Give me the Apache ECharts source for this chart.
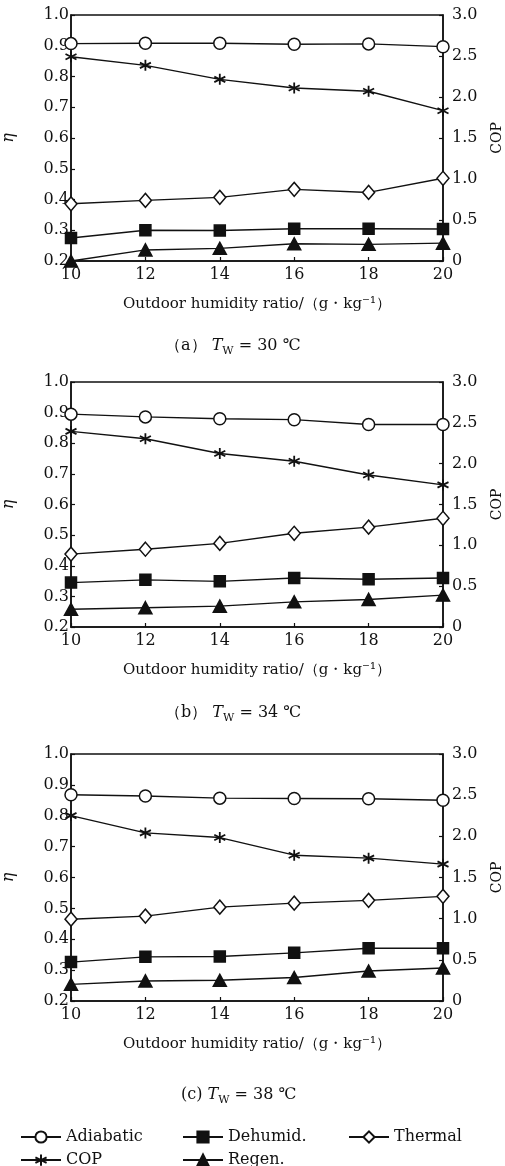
<!DOCTYPE html>
<html>
<head>
<meta charset="utf-8">
<script src="https://cdn.jsdelivr.net/npm/echarts@6/dist/echarts.min.js"></script>
<style>
html,body{margin:0;padding:0;background:#fff;overflow:hidden;}
#chart{width:505px;height:1166px;}
</style>
</head>
<body>
<div id="chart"></div>
<script>
// ---- data ----
const xValues = [10, 12, 14, 16, 18, 20];
const seriesNames = ['Adiabatic', 'Dehumid.', 'Thermal', 'COP', 'Regen.'];
const etaTicks = ['0.2','0.3','0.4','0.5','0.6','0.7','0.8','0.9','1.0'];
const copTicks = ['0','0.5','1.0','1.5','2.0','2.5','3.0'];
const captionTemps = ['30', '34', '38'];
const captionLetters = ['（a）', '（b）', '(c)'];

// panel (a) Tw = 30
const adiabaticA = [0.907, 0.908, 0.908, 0.905, 0.906, 0.897];
const dehumidA   = [0.275, 0.300, 0.299, 0.305, 0.305, 0.304];
const thermalA   = [0.386, 0.397, 0.407, 0.433, 0.423, 0.469];
const copA       = [2.49, 2.386, 2.215, 2.11, 2.07, 1.833];
const regenA     = [0.200, 0.236, 0.241, 0.256, 0.254, 0.258];

// panel (b) Tw = 34
const adiabaticB = [0.895, 0.886, 0.880, 0.877, 0.861, 0.861];
const dehumidB   = [0.345, 0.354, 0.349, 0.360, 0.356, 0.360];
const thermalB   = [0.438, 0.454, 0.473, 0.506, 0.526, 0.555];
const copB       = [2.395, 2.305, 2.124, 2.03, 1.862, 1.74];
const regenB     = [0.258, 0.263, 0.268, 0.282, 0.290, 0.304];

// panel (c) Tw = 38
const adiabaticC = [0.868, 0.864, 0.857, 0.856, 0.855, 0.850];
const dehumidC   = [0.326, 0.343, 0.344, 0.356, 0.371, 0.371];
const thermalC   = [0.465, 0.475, 0.504, 0.517, 0.526, 0.539];
const copC       = [2.252, 2.042, 1.985, 1.771, 1.735, 1.662];
const regenC     = [0.254, 0.265, 0.267, 0.276, 0.297, 0.307];

const panels = [
  [adiabaticA, dehumidA, thermalA, copA, regenA],
  [adiabaticB, dehumidB, thermalB, copB, regenB],
  [adiabaticC, dehumidC, thermalC, copC, regenC]
];

// ---- layout / style ----
const FONT = '"DejaVu Serif","Liberation Serif",serif';
const INK = '#111';
const gridTops = [15, 382, 754];
const gridHeights = [246, 245, 247];
const captionTops = [330, 697, 1079];
const captionLefts = [160, 160, 176];

const ASTERISK = 'path://M0,-10L0,10M-8.66,-5L8.66,5M-8.66,5L8.66,-5';
const styles = {
  'Adiabatic': {symbol: 'circle', size: 12, fill: '#fff'},
  'Dehumid.':  {symbol: 'rect', size: 11, fill: INK},
  'Thermal':   {symbol: 'diamond', size: [12, 14], fill: '#fff'},
  'COP':       {symbol: ASTERISK, size: 11, fill: 'none'},
  'Regen.':    {symbol: 'triangle', size: [13, 12], fill: INK}
};

const grids = [], xAxes = [], yAxes = [], series = [], titles = [];
panels.forEach((p, i) => {
  grids.push({left: 71, right: 62, top: gridTops[i], height: gridHeights[i],
    containLabel: false, outerBoundsMode: 'none',
    show: true, borderColor: INK, borderWidth: 1.5, backgroundColor: 'transparent'});
  xAxes.push({type: 'value', gridIndex: i, min: 10, max: 20, interval: 2,
    name: 'Outdoor humidity ratio/（g・kg⁻¹）', nameLocation: 'middle', nameGap: 36,
    nameTextStyle: {fontFamily: FONT, fontSize: 15, color: INK},
    axisLine: {lineStyle: {color: INK, width: 1.5}},
    axisTick: {inside: true, length: 4, lineStyle: {color: INK, width: 1.2}},
    axisLabel: {fontFamily: FONT, fontSize: 16, color: INK, margin: 6},
    splitLine: {show: false}});
  yAxes.push({type: 'value', gridIndex: i, min: 0.2, max: 1.0, interval: 0.1,
    name: 'η', nameLocation: 'middle', nameGap: 54, nameRotate: 90,
    nameTextStyle: {fontFamily: FONT, fontSize: 16, fontStyle: 'italic', color: INK},
    axisLine: {lineStyle: {color: INK, width: 1.5}},
    axisTick: {inside: true, length: 4, lineStyle: {color: INK, width: 1.2}},
    axisLabel: {fontFamily: FONT, fontSize: 16, color: INK, margin: 2,
      formatter: v => etaTicks[Math.round((v - 0.2) * 10)]},
    splitLine: {show: false}});
  yAxes.push({type: 'value', gridIndex: i, position: 'right', min: 0, max: 3, interval: 0.5,
    name: 'COP', nameLocation: 'middle', nameGap: 47, nameRotate: 90,
    nameTextStyle: {fontFamily: FONT, fontSize: 14, color: INK},
    axisLine: {show: true, lineStyle: {color: INK, width: 1.5}},
    axisTick: {show: true, inside: true, length: 4, lineStyle: {color: INK, width: 1.2}},
    axisLabel: {fontFamily: FONT, fontSize: 16, color: INK, margin: 9,
      formatter: v => copTicks[Math.round(v * 2)]},
    splitLine: {show: false}});
  seriesNames.forEach((name, k) => {
    const st = styles[name];
    series.push({
      type: 'line', name: name, xAxisIndex: i,
      yAxisIndex: name === 'COP' ? 2 * i + 1 : 2 * i,
      data: xValues.map((x, j) => [x, p[k][j]]),
      symbol: st.symbol, symbolSize: st.size, showAllSymbol: true,
      lineStyle: {color: INK, width: 1.4},
      itemStyle: {color: st.fill, borderColor: INK, borderWidth: name === 'COP' ? 1.8 : 1.5},
      emphasis: {disabled: true},
      animation: false, z: 3
    });
  });
  titles.push({
    text: '{n|' + captionLetters[i] + ' }{i|T}{s|W}{n| = ' + captionTemps[i] + ' ℃}',
    left: captionLefts[i], top: captionTops[i],
    textStyle: {fontWeight: 'normal', rich: {
      n: {fontFamily: FONT, fontSize: 16, fontWeight: 'normal', color: INK, lineHeight: 22},
      i: {fontFamily: FONT, fontSize: 16, fontWeight: 'normal', fontStyle: 'italic', color: INK, lineHeight: 22},
      s: {fontFamily: FONT, fontSize: 11, fontWeight: 'normal', color: INK, lineHeight: 12, verticalAlign: 'bottom'}
    }}
  });
});

const legendPos = {
  'Adiabatic': [15, 1124], 'Dehumid.': [177, 1124], 'Thermal': [343, 1124],
  'COP': [15, 1147], 'Regen.': [177, 1147]
};
const legends = seriesNames.map(n => ({
  data: [n], left: legendPos[n][0], top: legendPos[n][1],
  itemWidth: 40, itemHeight: 14, itemGap: 8, selectedMode: false,
  textStyle: {fontFamily: FONT, fontSize: 16, color: INK}
}));

const chart = echarts.init(document.getElementById('chart'), null, {renderer: 'canvas'});
chart.setOption({
  backgroundColor: '#fff',
  animation: false,
  title: titles,
  legend: legends,
  grid: grids, xAxis: xAxes, yAxis: yAxes, series: series
});
</script>
</body>
</html>
